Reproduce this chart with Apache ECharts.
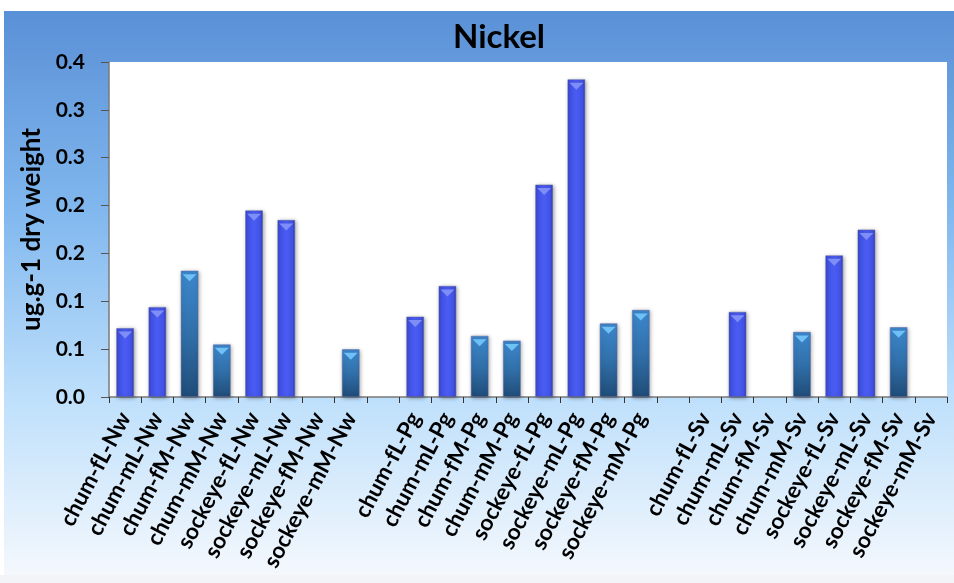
<!DOCTYPE html>
<html><head><meta charset="utf-8">
<script src="https://cdn.jsdelivr.net/npm/echarts@6/dist/echarts.min.js"></script>
<style>html,body{margin:0;padding:0;background:#fff}#c{width:954px;height:583px}</style>
</head><body><div id="c"></div>
<script>
const categories = [
  'chum-fL-Nw','chum-mL-Nw','chum-fM-Nw','chum-mM-Nw','sockeye-fL-Nw','sockeye-mL-Nw','sockeye-fM-Nw','sockeye-mM-Nw',
  '',
  'chum-fL-Pg','chum-mL-Pg','chum-fM-Pg','chum-mM-Pg','sockeye-fL-Pg','sockeye-mL-Pg','sockeye-fM-Pg','sockeye-mM-Pg',
  '',
  'chum-fL-Sv','chum-mL-Sv','chum-fM-Sv','chum-mM-Sv','sockeye-fL-Sv','sockeye-mL-Sv','sockeye-fM-Sv','sockeye-mM-Sv'
];
const values = [
  0.072, 0.094, 0.132, 0.055, 0.195, 0.185, null, 0.050,
  null,
  0.084, 0.116, 0.064, 0.059, 0.222, 0.332, 0.077, 0.091,
  null,
  null, 0.089, null, 0.068, 0.148, 0.175, 0.073, null
];
const yTickLabels = ['0.0','0.1','0.1','0.2','0.2','0.3','0.3','0.4'];
const titleText = 'Nickel';
const yAxisName = 'ug.g-1 dry weight';

const isL = c => /L-/.test(c);
const brightGrad = new echarts.graphic.LinearGradient(0,0,1,0,[
  {offset:0,color:'#3441c4'},{offset:0.15,color:'#4152e6'},{offset:0.5,color:'#4a5cf2'},{offset:0.85,color:'#4152e6'},{offset:1,color:'#2f3aae'}]);
const tealGrad = new echarts.graphic.LinearGradient(0,0,0,1,[
  {offset:0,color:'#3c87cc'},{offset:0.5,color:'#3170aa'},{offset:1,color:'#1f4c78'}]);

const barData = values.map((v,i)=>({
  value: v,
  itemStyle:{color: isL(categories[i]) ? brightGrad : tealGrad}
}));
const capData = values.map((v,i)=>({
  value: v,
  itemStyle:{color: isL(categories[i]) ? '#7f8df7' : '#6fc0f5'}
}));

const chart = echarts.init(document.getElementById('c'));
chart.setOption({
  animation:false,
  graphic:[
    {type:'rect', z:-10, shape:{x:4,y:11,width:950,height:564},
     style:{fill:new echarts.graphic.LinearGradient(0,0,0,1,[
       {offset:0,color:'#5a90d6'},{offset:0.35,color:'#80b7ee'},{offset:0.68,color:'#bddffb'},{offset:1,color:'#f4f8fd'}])}},
    {type:'rect', z:-9, shape:{x:0,y:575,width:954,height:8}, style:{fill:'#f2f4f7'}}
  ],
  title:{text:titleText,left:494,top:16,textAlign:'center',
    textStyle:{fontFamily:'Lato',fontWeight:'bold',fontSize:33,color:'#000'}},
  grid:{left:109,right:7,top:62,bottom:186,show:true,backgroundColor:'#ffffff',borderWidth:0},
  xAxis:{
    type:'category',data:categories,
    axisLine:{lineStyle:{color:'#7a7a7a',width:1.5}},
    axisTick:{show:true,alignWithLabel:false,interval:0,length:6,lineStyle:{color:'#333'}},
    axisLabel:{interval:0,rotate:62,fontFamily:'Lato',fontWeight:'bold',fontSize:22.5,color:'#000',margin:17}
  },
  yAxis:{
    type:'value',min:0,max:0.35,interval:0.05,
    name:yAxisName,nameLocation:'middle',nameGap:62,nameRotate:90,
    nameTextStyle:{fontFamily:'Lato',fontWeight:'bold',fontSize:26,color:'#000'},
    axisLine:{show:true,lineStyle:{color:'#7a7a7a',width:1.5}},
    axisTick:{show:true,inside:false,length:8,lineStyle:{color:'#555'}},
    splitLine:{show:false},
    axisLabel:{fontFamily:'Lato',fontWeight:'bold',fontSize:21,color:'#000',margin:24,
      formatter:(v)=>yTickLabels[Math.round(v/0.05)]}
  },
  series:[
    {type:'bar',data:barData,barWidth:'55%',
     itemStyle:{borderColor:'rgba(90,100,160,0.6)',borderWidth:0.8,shadowColor:'rgba(0,0,0,0.35)',shadowBlur:4,shadowOffsetX:1,shadowOffsetY:1}},
    {type:'pictorialBar',data:capData,symbol:'triangle',symbolRotate:180,symbolSize:[14,7],
     symbolPosition:'end',symbolOffset:[0,'50%'],z:5,barGap:'-100%'}
  ]
});
</script></body></html>
